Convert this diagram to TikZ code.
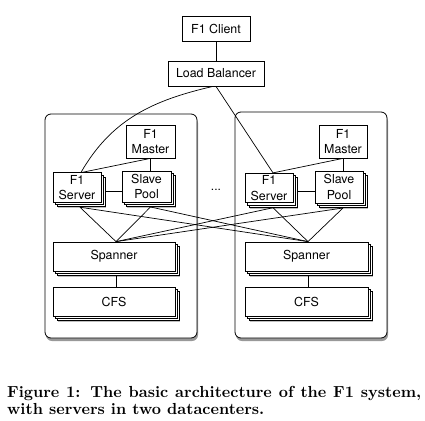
\documentclass[tikz,border=0pt]{standalone}
\usepackage{fontspec}
\setsansfont{TeX Gyre Heros}
\newfontfamily\capbf{lmroman10-bold.otf}
\usetikzlibrary{shadows,calc}
\tikzset{
  box/.style={draw, fill=white, line width=0.75pt, inner sep=0pt, align=center,
    font=\sffamily\fontsize{12.4}{15.5}\selectfont},
  shbox/.style={box, drop shadow={shadow xshift=0.8pt, shadow yshift=-1.2pt, fill=black, opacity=0.3}},
  stackbox/.style={box,
    general shadow={shadow xshift=5.4pt, shadow yshift=-5.8pt, fill=black, opacity=0.25, draw=none},
    general shadow={shadow xshift=4.6pt, shadow yshift=-4.6pt, draw=black, fill=white, line width=0.75pt},
    general shadow={shadow xshift=2.3pt, shadow yshift=-2.3pt, draw=black, fill=white, line width=0.75pt}},
  dcbox/.style={draw, fill=white, line width=0.8pt, rounded corners=6pt, inner sep=0pt,
    drop shadow={shadow xshift=1pt, shadow yshift=-3pt, fill=black, opacity=0.4}},
  conn/.style={line width=0.7pt, draw=black},
  capfont/.style={font=\capbf\fontsize{16}{17}\selectfont, inner sep=0pt}
}
\begin{document}
\begin{tikzpicture}[x=1pt,y=1pt]
\useasboundingbox (0,0) rectangle (425,-420);
% datacenters
\node[dcbox, minimum width=152pt, minimum height=224pt] (dcl) at (121,-226) {};
\node[dcbox, minimum width=152pt, minimum height=226pt] (dcr) at (311,-225) {};
% top
\node[shbox, minimum width=68pt, minimum height=25pt] (client) at (216,-28.5) {F1 Client};
\node[shbox, minimum width=96pt, minimum height=25pt] (lb) at (216,-73.5) {Load Balancer};
% left datacenter
\node[box, minimum width=49pt, minimum height=33pt] (lmaster) at (150.5,-141.5) {F1\\Master};
\node[stackbox, minimum width=48pt, minimum height=29.5pt] (lserver) at (77,-187.5) {F1\\Server};
\node[stackbox, minimum width=49pt, minimum height=31pt] (lpool) at (146.5,-186.5) {Slave\\Pool};
\node[stackbox, minimum width=122pt, minimum height=29pt] (lspan) at (114,-256.5) {Spanner};
\node[stackbox, minimum width=122pt, minimum height=29pt] (lcfs) at (114,-301.5) {CFS};
% right datacenter
\node[box, minimum width=48pt, minimum height=33pt] (rmaster) at (343,-141.5) {F1\\Master};
\node[stackbox, minimum width=48pt, minimum height=29.5pt] (rserver) at (269,-188) {F1\\Server};
\node[stackbox, minimum width=48pt, minimum height=32pt] (rpool) at (339,-187) {Slave\\Pool};
\node[stackbox, minimum width=123pt, minimum height=29pt] (rspan) at (306.5,-256.5) {Spanner};
\node[stackbox, minimum width=123pt, minimum height=29pt] (rcfs) at (306.5,-301.5) {CFS};
\node[font=\sffamily\fontsize{12}{14}\selectfont, inner sep=0pt] (dots) at (216,-190) {...};
% helper coordinates
\coordinate (lsb) at ($(lserver.south)+(3,-4.6)$);
\coordinate (lpb) at ($(lpool.south)+(4,-4.6)$);
\coordinate (rsb) at ($(rserver.south)+(4,-4.6)$);
\coordinate (rpb) at ($(rpool.south)+(4,-4.6)$);
\coordinate (lst) at ($(lspan.north)+(2,0)$);
\coordinate (rst) at ($(rspan.north)+(1.5,0)$);
% connectors
\draw[conn] (client.south) -- (lb.north);
\draw[conn] ([xshift=-3pt]lb.south) to[out=193, in=60] ([xshift=4pt]lserver.north);
\draw[conn] (lb.south) -- ([xshift=4pt]rserver.north);
\draw[conn] (lmaster.south) -- ([xshift=5pt]lserver.north);
\draw[conn] (rmaster.south) -- ([xshift=4pt]rserver.north);
\draw[conn] (lmaster.south) -- (lmaster.south |- lpool.north);
\draw[conn] (rmaster.south) -- (rmaster.south |- rpool.north);
\draw[conn] ($(lserver.east)+(4.6,-3.5)$) -- ($(lserver.east -| lpool.west)+(0,-3.5)$);
\draw[conn] ($(rserver.east)+(4.6,-3)$) -- ($(rserver.east -| rpool.west)+(0,-3)$);
\draw[conn] (lsb) -- (lst);
\draw[conn] (lpb) -- (lst);
\draw[conn] (rsb) -- (lst);
\draw[conn] (rpb) -- (lst);
\draw[conn] (lsb) -- (rst);
\draw[conn] (lpb) -- (rst);
\draw[conn] (rsb) -- (rst);
\draw[conn] (rpb) -- (rst);
\draw[conn] ($(lspan.south)+(2,-4.6)$) -- ($(lcfs.north)+(2,0)$);
\draw[conn] ($(rspan.south)+(1.5,-4.6)$) -- ($(rcfs.north)+(1.5,0)$);
% caption
\node[capfont, anchor=base west] (cap1) at (7,-397) {\makebox[414pt][s]{Figure 1: The basic architecture of the F1 system,}};
\node[capfont, anchor=base west] (cap2) at (7,-414) {with servers in two datacenters.};
\end{tikzpicture}
\end{document}
